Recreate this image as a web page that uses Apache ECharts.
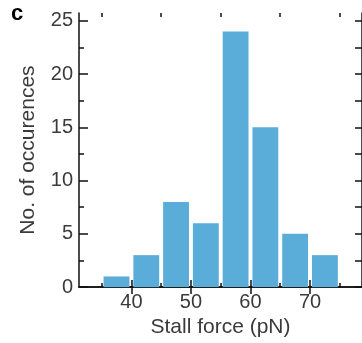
<!DOCTYPE html>
<html>
<head>
<meta charset="utf-8">
<style>html,body{margin:0;padding:0;background:#fff;}#c{width:362px;height:343px;}</style>
<script src="https://cdn.jsdelivr.net/npm/echarts@6/dist/echarts.min.js"></script>
</head>
<body>
<div id="c"></div>
<script>
// Histogram bins (pN) and counts
const binStarts = [35, 40, 45, 50, 55, 60, 65, 70];
const binWidth = 5;
const counts = [1, 3, 8, 6, 24, 15, 5, 3];
const xLabelValues = [40, 50, 60, 70];
const xMinorValues = [35, 45, 55, 65, 75];
const yLabelValues = [0, 5, 10, 15, 20, 25];
const yMinorValues = [2.5, 7.5, 12.5, 17.5, 22.5];
const yAllValues = [0, 2.5, 5, 7.5, 10, 12.5, 15, 17.5, 20, 22.5, 25];

const FONT = 'Liberation Sans, Arial, sans-serif';
const INK = '#111';
const TEXT = '#3a3a3a';

const chart = echarts.init(document.getElementById('c'), null, {renderer: 'canvas'});
const data = binStarts.map((s, i) => [s, s + binWidth, counts[i]]);

const lineStyle = {color: INK, width: 1.5};

chart.setOption({
  animation: false,
  backgroundColor: '#fff',
  graphic: [{type: 'text', left: 11, top: 3, style: {text: 'c', font: 'bold 22px ' + FONT, fill: '#000'}}],
  grid: {left: 79, top: 13, width: 284, height: 281, containLabel: false},
  xAxis: [
    {type: 'value', position: 'bottom', min: 31.2, max: 78.73,
     axisLine: {show: true, lineStyle}, splitLine: {show: false},
     axisTick: {show: true, inside: true, length: 7, customValues: xLabelValues, lineStyle},
     axisLabel: {show: true, customValues: xLabelValues, color: TEXT, fontSize: 20, fontFamily: FONT, margin: 5},
     name: 'Stall force (pN)', nameLocation: 'middle', nameGap: 28,
     nameTextStyle: {color: TEXT, fontSize: 21, fontFamily: FONT}},
    {type: 'value', position: 'bottom', min: 31.2, max: 78.73,
     axisLine: {show: false}, splitLine: {show: false},
     axisTick: {show: true, inside: true, length: 4, customValues: xMinorValues, lineStyle},
     axisLabel: {show: false}},
    {type: 'value', position: 'top', min: 31.2, max: 78.73,
     axisLine: {show: true, lineStyle}, splitLine: {show: false},
     axisTick: {show: true, inside: true, length: 7, customValues: xLabelValues, lineStyle},
     axisLabel: {show: false}},
    {type: 'value', position: 'top', min: 31.2, max: 78.73,
     axisLine: {show: false}, splitLine: {show: false},
     axisTick: {show: true, inside: true, length: 4, customValues: xMinorValues, lineStyle},
     axisLabel: {show: false}}
  ],
  yAxis: [
    {type: 'value', position: 'left', min: 0, max: 25.73,
     axisLine: {show: true, lineStyle}, splitLine: {show: false},
     axisTick: {show: true, inside: true, length: 9, customValues: yLabelValues, lineStyle},
     axisLabel: {show: true, customValues: yLabelValues, color: TEXT, fontSize: 20, fontFamily: FONT, margin: 6},
     name: 'No. of occurences', nameLocation: 'middle', nameGap: 40,
     nameTextStyle: {color: TEXT, fontSize: 21, fontFamily: FONT}},
    {type: 'value', position: 'left', min: 0, max: 25.73,
     axisLine: {show: false}, splitLine: {show: false},
     axisTick: {show: true, inside: true, length: 5, customValues: yMinorValues, lineStyle},
     axisLabel: {show: false}},
    {type: 'value', position: 'right', min: 0, max: 25.73,
     axisLine: {show: true, lineStyle}, splitLine: {show: false},
     axisTick: {show: true, inside: true, length: 7, customValues: yAllValues, lineStyle},
     axisLabel: {show: false}}
  ],
  series: [{
    type: 'custom',
    xAxisIndex: 0, yAxisIndex: 0,
    data: data,
    renderItem: function (params, api) {
      const lo = api.value(0), hi = api.value(1), v = api.value(2);
      const p0 = api.coord([lo, v]);
      const p1 = api.coord([hi, 0]);
      const gap = 0.33 * (p1[0] - p0[0]) / binWidth;
      return {
        type: 'rect',
        shape: {x: p0[0] + gap, y: p0[1], width: (p1[0] - p0[0]) - 2 * gap, height: p1[1] - p0[1]},
        style: {fill: '#5aadd9'}
      };
    },
    z: 1
  }]
});
</script>
</body>
</html>
